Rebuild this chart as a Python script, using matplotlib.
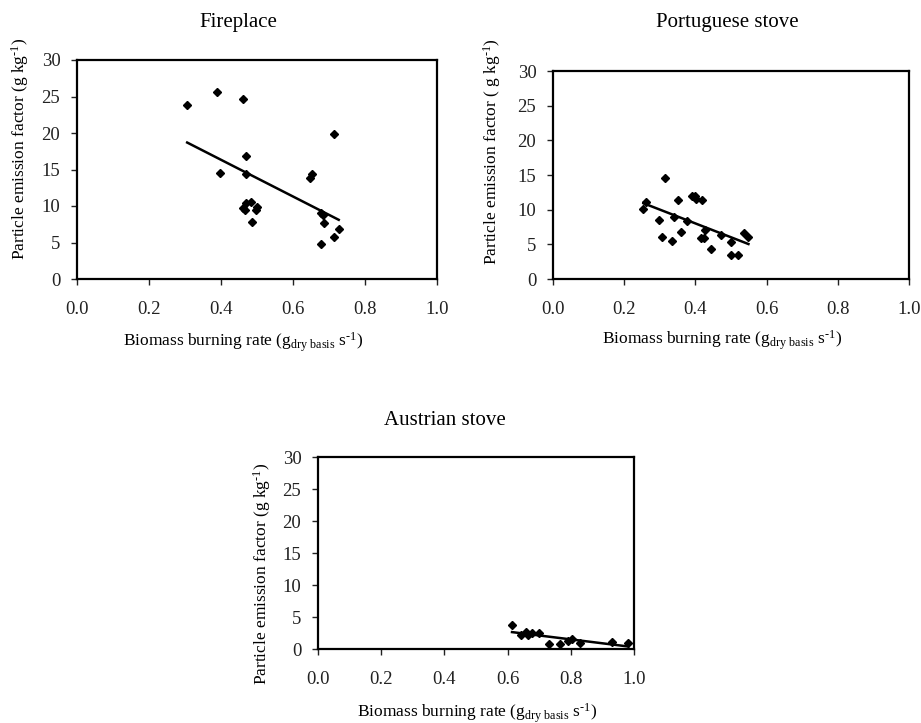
import numpy as np
import matplotlib
matplotlib.use("Agg")
from matplotlib import pyplot as plt

plt.rcParams["font.family"] = "Liberation Serif"
plt.rcParams["mathtext.fontset"] = "custom"
plt.rcParams["mathtext.rm"] = "Liberation Serif"
plt.rcParams["mathtext.it"] = "Liberation Serif:italic"

# Fireplace
fire_x = [0.306, 0.390, 0.462, 0.715, 0.469, 0.396, 0.469, 0.647, 0.652, 0.461, 0.467,
          0.470, 0.482, 0.499, 0.498, 0.486, 0.677, 0.684, 0.687, 0.727, 0.715, 0.677]
fire_y = [23.9, 25.6, 24.6, 19.8, 16.8, 14.5, 14.4, 13.8, 14.4, 9.7, 9.4,
          10.4, 10.6, 9.9, 9.5, 7.8, 9.0, 8.8, 7.7, 6.8, 5.7, 4.8]

# Portuguese stove
port_x = [0.254, 0.262, 0.315, 0.298, 0.306, 0.334, 0.339, 0.351, 0.360, 0.377, 0.390, 0.399,
          0.403, 0.419, 0.416, 0.425, 0.428, 0.444, 0.472, 0.501, 0.499, 0.521, 0.537, 0.549]
port_y = [10.1, 11.1, 14.5, 8.5, 6.1, 5.5, 8.9, 11.4, 6.8, 8.3, 11.9, 11.9,
          11.5, 11.4, 5.9, 5.9, 7.1, 4.3, 6.3, 5.4, 3.5, 3.4, 6.6, 6.1]

# Austrian stove
aus_x = [0.614, 0.643, 0.657, 0.666, 0.677, 0.700, 0.731, 0.767, 0.791, 0.805, 0.830, 0.930, 0.982]
aus_y = [3.8, 2.2, 2.6, 2.2, 2.5, 2.5, 0.85, 0.75, 1.25, 1.5, 1.0, 1.15, 0.95]

W, H = 921, 723
fig = plt.figure(figsize=(W / 100, H / 100), dpi=100)

XLAB = "Biomass burning rate (g$_{\\mathrm{dry\\ basis}}$ s$^{\\mathrm{\u2010}1}$)"


def px(x, y):
    return x / W, 1 - y / H


def make_panel(box, xs, ys, title, title_xy, ylab, ylab_xy, xlab_xy):
    l, t, r, b = box
    ax = fig.add_axes([l / W, 1 - b / H, (r - l) / W, (b - t) / H])
    ax.plot(xs, ys, "D", color="black", markersize=3.6)
    # linear trend over the data range
    k, c = np.polyfit(xs, ys, 1)
    xl = np.array([min(xs), max(xs)])
    ax.plot(xl, k * xl + c, color="black", lw=1.8)
    ax.set_xlim(0, 1)
    ax.set_ylim(0, 30)
    ax.set_xticks(np.arange(0, 1.01, 0.2))
    ax.set_xticklabels([f"{v:.1f}" for v in np.arange(0, 1.01, 0.2)])
    ax.set_yticks(range(0, 31, 5))
    ax.tick_params(direction="out", length=4, width=1, labelsize=13.5, colors="#222222")
    ax.tick_params(axis="x", pad=12)
    ax.tick_params(axis="y", pad=8)
    for s in ax.spines.values():
        s.set_linewidth(1.6)
    fig.text(*px(*title_xy), title, ha="center", va="center", fontsize=15)
    fig.text(*px(*ylab_xy), ylab, ha="center", va="center", rotation=90, fontsize=12.5)
    fig.text(*px(*xlab_xy), XLAB, ha="center", va="center", fontsize=12.5)
    return ax


make_panel((77, 60, 437, 279), fire_x, fire_y, "Fireplace", (238, 23),
           "Particle emission factor (g kg$^{\\mathrm{\u2010}1}$)", (20, 149), (243, 342))
make_panel((553, 71, 909, 279), port_x, port_y, "Portuguese stove", (727, 23),
           "Particle emission factor ( g kg$^{\\mathrm{\u2010}1}$)", (492, 152), (722, 340))
make_panel((318, 457, 634, 649), aus_x, aus_y, "Austrian stove", (445, 420),
           "Particle emission factor (g kg$^{\\mathrm{\u2010}1}$)", (262, 574), (477, 713))

plt.savefig("out.png", dpi=100)
